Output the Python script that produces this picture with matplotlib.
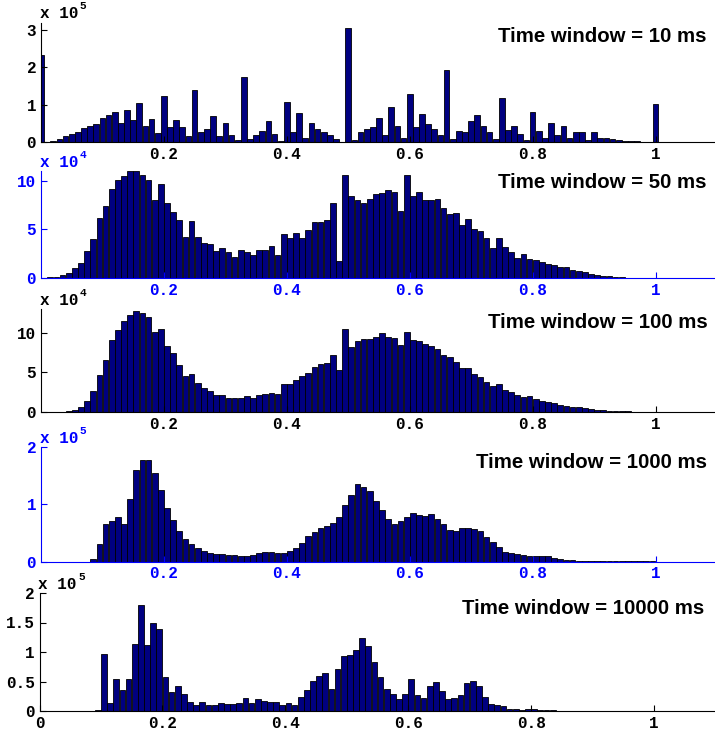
import matplotlib
matplotlib.use('Agg')
import matplotlib.pyplot as plt
import numpy as np

# bin counts per 0.01 bin; units given by each panel's exponent
win_10 = [2.33, 0.005, 0.04, 0.09, 0.15, 0.22, 0.27, 0.38, 0.43, 0.49,
          0.65, 0.72, 0.81, 0.52, 0.86, 0.58, 1.05, 0.44, 0.61, 0.25,
          1.23, 0.41, 0.60, 0.40, 0.15, 1.38, 0.26, 0.36, 0.70, 0.15,
          0.51, 0.18, 0.06, 1.73, 0.09, 0.18, 0.30, 0.57, 0.22, 0.04,
          1.08, 0.27, 0.78, 0.12, 0.50, 0.35, 0.28, 0.20, 0.07, 0.01,
          3.05, 0.06, 0.26, 0.36, 0.40, 0.65, 0.20, 0.95, 0.42, 0.10,
          1.29, 0.40, 0.74, 0.47, 0.35, 0.20, 1.93, 0.08, 0.30, 0.28,
          0.57, 0.73, 0.44, 0.26, 0.07, 1.18, 0.32, 0.43, 0.22, 0.06,
          0.80, 0.29, 0.12, 0.52, 0.18, 0.42, 0.12, 0.27, 0.26, 0.05,
          0.26, 0.10, 0.12, 0.07, 0.06, 0.04, 0.035, 0.02, 0.01, 0.01,
          1.02]

win_50 = [0.03, 0.07, 0.14, 0.28, 0.52, 1.05, 1.57, 2.76, 3.99, 6.15,
          7.42, 9.18, 10.03, 10.5, 11.0, 11.0, 10.6, 10.03, 7.97, 9.66,
          7.66, 6.8, 5.98, 4.23, 5.88, 4.26, 3.64, 3.47, 2.78, 3.13,
          2.65, 2.13, 2.9, 2.66, 2.41, 2.83, 2.9, 3.25, 2.34, 4.55,
          4.09, 4.65, 4.16, 4.9, 5.73, 5.77, 5.94, 7.66, 1.78, 10.63,
          8.39, 8.04, 7.76, 8.08, 8.64, 8.78, 9.06, 8.88, 6.92, 10.63,
          8.46, 8.81, 8.0, 8.04, 8.08, 7.2, 6.61, 6.68, 5.45, 6.08,
          5.0, 4.86, 4.16, 3.11, 4.16, 3.15, 2.69, 2.06, 2.48, 1.99,
          1.85, 1.61, 1.47, 1.33, 1.15, 1.08, 0.84, 0.73, 0.59, 0.45,
          0.35, 0.24, 0.17, 0.10, 0.07, 0.04, 0.03, 0.02, 0.02, 0.01]

win_100 = [0.0, 0.0, 0.01, 0.03, 0.08, 0.21, 0.59, 1.40, 2.71, 4.66,
           6.53, 9.03, 10.38, 11.44, 12.29, 12.8, 12.46, 11.99, 10.04, 10.51,
           8.35, 7.42, 5.89, 4.58, 4.79, 3.6, 3.0, 2.67, 2.16, 2.12,
           1.82, 1.82, 1.74, 1.99, 1.82, 2.12, 2.29, 2.42, 2.33, 3.52,
           3.52, 3.98, 4.49, 4.92, 5.64, 6.06, 6.19, 7.16, 5.25, 10.5,
           8.2, 8.9, 9.2, 9.2, 9.5, 10.0, 9.5, 9.3, 8.5, 10.1,
           9.15, 8.9, 8.6, 8.35, 7.9, 7.16, 6.9, 6.3, 5.55, 5.5,
           4.83, 4.45, 3.8, 3.3, 3.5, 2.75, 2.5, 2.16, 1.9, 2.0,
           1.65, 1.4, 1.27, 1.1, 0.93, 0.76, 0.64, 0.59, 0.47, 0.34,
           0.3, 0.21, 0.17, 0.13, 0.08, 0.08, 0.04, 0.04, 0.04, 0.02]

win_1000 = [0.0, 0.0, 0.0, 0.0, 0.0, 0.0, 0.0, 0.0, 0.05, 0.31,
            0.66, 0.71, 0.78, 0.65, 1.10, 1.60, 1.78, 1.78, 1.55, 1.25,
            0.94, 0.73, 0.53, 0.39, 0.31, 0.23, 0.18, 0.145, 0.13, 0.13,
            0.11, 0.11, 0.10, 0.10, 0.11, 0.15, 0.16, 0.16, 0.14, 0.155,
            0.18, 0.24, 0.33, 0.45, 0.51, 0.58, 0.62, 0.67, 0.78, 0.98,
            1.17, 1.36, 1.30, 1.23, 1.05, 0.90, 0.75, 0.65, 0.71, 0.77,
            0.85, 0.81, 0.80, 0.83, 0.74, 0.65, 0.55, 0.54, 0.58, 0.58,
            0.57, 0.54, 0.43, 0.34, 0.26, 0.17, 0.15, 0.13, 0.11, 0.10,
            0.10, 0.10, 0.10, 0.06, 0.05, 0.03, 0.02, 0.01, 0.01, 0.01,
            0.005, 0.005, 0.005, 0.005, 0.005, 0.005, 0.005, 0.005, 0.005, 0.005]

win_10000 = [0.0, 0.0, 0.0, 0.0, 0.0, 0.0, 0.0, 0.0, 0.0, 0.01,
             0.97, 0.13, 0.54, 0.36, 0.54, 1.13, 1.80, 1.12, 1.50, 1.39,
             0.57, 0.33, 0.42, 0.29, 0.15, 0.10, 0.15, 0.11, 0.11, 0.14,
             0.12, 0.12, 0.135, 0.22, 0.13, 0.20, 0.17, 0.16, 0.16, 0.11,
             0.135, 0.10, 0.24, 0.35, 0.51, 0.59, 0.64, 0.38, 0.71, 0.93,
             0.95, 1.03, 1.24, 1.10, 0.83, 0.58, 0.37, 0.28, 0.21, 0.29,
             0.55, 0.27, 0.22, 0.42, 0.49, 0.34, 0.21, 0.22, 0.27, 0.47,
             0.51, 0.42, 0.24, 0.12, 0.10, 0.09, 0.034, 0.034, 0.02, 0.04,
             0.034, 0.02, 0.017, 0.017, 0.0, 0.0, 0.0, 0.0, 0.0, 0.0,
             0.0, 0.0, 0.0, 0.0, 0.0, 0.0, 0.0, 0.0, 0.0, 0.0]

titles = ['Time window = 10 ms', 'Time window = 50 ms', 'Time window = 100 ms',
          'Time window = 1000 ms', 'Time window = 10000 ms']
exponents = ['5', '4', '4', '5', '5']
ytick_vals = [[0, 1, 2, 3], [0, 5, 10], [0, 5, 10], [0, 1, 2], [0, 0.5, 1, 1.5, 2]]
ytick_labels = [['0', '1', '2', '3'], ['0', '5', '10'], ['0', '5', '10'],
                ['0', '1', '2'], ['0', '0.5', '1', '1.5', '2']]
ymax = [3.2, 11.0, 13.0, 2.0, 2.0]

W, H = 715, 736
# axes boxes in pixels: left, top, bottom
boxes = [(41, 22.5, 142), (41, 171, 278), (41, 309, 412), (41, 447, 561.5), (39.5, 593, 711)]
title_pos = [(707, 36), (707, 183), (708, 322), (707, 463), (704, 608)]
colors = ['black', 'blue', 'black', 'blue', 'black']

plt.rcParams['font.family'] = 'Liberation Mono'
plt.rcParams['font.weight'] = 'bold'

fig = plt.figure(figsize=(W / 100, H / 100), dpi=100)

series = [win_10, win_50, win_100, win_1000, win_10000]
for i, counts in enumerate(series):
    left, top, bottom = boxes[i]
    ax = fig.add_axes([left / W, 1 - bottom / H, 676 / W, (bottom - top) / H])
    c = colors[i]
    if i == 0:
        centers = np.arange(len(counts)) * 0.01
    else:
        centers = (np.arange(len(counts)) + 0.5) * 0.01
    ax.bar(centers, counts, width=0.0093, color='#000080', edgecolor='black', linewidth=0.6)
    ax.set_xlim(0, 1.1)
    ax.set_ylim(0, ymax[i])

    ax.spines['top'].set_visible(False)
    ax.spines['right'].set_visible(False)
    ax.spines['left'].set_color(c)
    ax.spines['bottom'].set_color(c)
    ax.spines['left'].set_bounds(0, ymax[i])

    if i == 4:
        ax.set_xticks([0, 0.2, 0.4, 0.6, 0.8, 1])
        ax.set_xticklabels(['0', '0.2', '0.4', '0.6', '0.8', '1'])
    else:
        ax.set_xticks([0.2, 0.4, 0.6, 0.8, 1])
        ax.set_xticklabels(['0.2', '0.4', '0.6', '0.8', '1'])
    ax.set_yticks(ytick_vals[i])
    ax.set_yticklabels(ytick_labels[i])
    ax.tick_params(direction='in', length=4, width=0.8, labelsize=11.5, colors=c, pad=3.5)
    ax.set_facecolor('none')

    # MATLAB-style exponent marker above the y axis
    t = ax.annotate('x 10', xy=(0, 1), xycoords='axes fraction', xytext=(-1, 3),
                    textcoords='offset points', ha='left', va='baseline',
                    fontsize=11.5, color=c)
    ax.annotate(exponents[i], xy=(1, 1), xycoords=t, xytext=(1, -2.2),
                textcoords='offset points', ha='left', va='baseline',
                fontsize=8, color=c)

    tx, ty = title_pos[i]
    fig.text(tx / W, 1 - ty / H, titles[i], ha='right', va='center',
             family='Liberation Sans', fontweight='bold', fontsize=14.7)

fig.savefig('out.png', dpi=100)
